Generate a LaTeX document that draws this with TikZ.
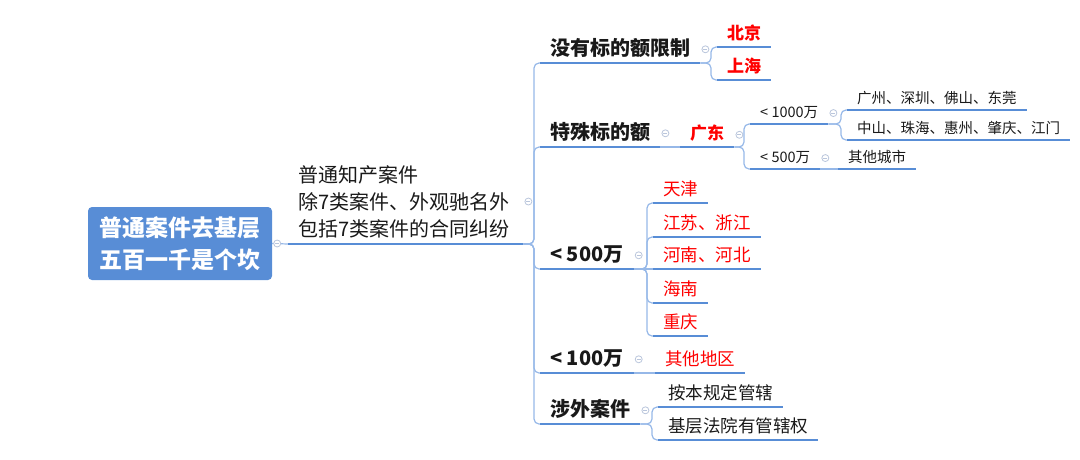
\documentclass[tikz,border=0pt]{standalone}
\usepackage{fontspec}
\setmainfont{Noto Sans CJK SC}
\definecolor{mapblue}{RGB}{88,141,214}
\definecolor{linkblue}{RGB}{150,184,232}
\definecolor{foldgray}{RGB}{186,198,220}
\definecolor{ink}{RGB}{25,25,25}
\definecolor{hot}{RGB}{255,0,0}

\begin{document}
\begin{tikzpicture}[x=1pt,y=-1pt,
 topic/.style={anchor=south west, inner xsep=10pt, inner ysep=3.5pt, text=ink},
 head/.style={topic, text height=16pt, text depth=4pt, font=\fontsize{20pt}{24pt}\selectfont\bfseries},
 city/.style={topic, text=hot, text height=13.6pt, text depth=3.4pt, font=\fontsize{17pt}{20pt}\selectfont\bfseries},
 place/.style={topic, text height=14pt, text depth=3.5pt, font=\fontsize{17.5pt}{21pt}\selectfont},
 redplace/.style={place, text=hot},
 small/.style={topic, text height=11.6pt, text depth=2.9pt, font=\fontsize{14.5pt}{17pt}\selectfont},
 uline/.style={mapblue, line width=2pt},
 link/.style={linkblue, line width=1.2pt, rounded corners=5pt},
 fold/.style={circle, draw=foldgray, fill=white, line width=0.8pt, inner sep=0pt, minimum size=7pt}]
\useasboundingbox (0,0) rectangle (1080,459);

\node[fill=mapblue, rounded corners=4pt, text=white, align=center, inner sep=0pt,
 minimum width=184pt, minimum height=73pt, font=\fontsize{23pt}{32pt}\selectfont\bfseries]
 (root) at (180,243.5) {普通案件去基层\\五百一千是个坎};
\node[topic, text width=215pt, align=left, inner ysep=6pt, font=\fontsize{20pt}{27pt}\selectfont]
 (ip) at (288,244) {普通知产案件\\除7类案件、外观驰名外\\包括7类案件的合同纠纷};

\node[head] (nolimit) at (540,63) {没有标的额限制};
\node[city] (bj) at (717,47) {北京};
\node[city] (sh) at (717,80) {上海};
\node[head] (special) at (540,147) {特殊标的额};
\node[city] (gd) at (680,147) {广东};
\node[small] (gdhigh) at (750,124) {< 1000万};
\node[small] (gz) at (847,110) {广州、深圳、佛山、东莞};
\node[small] (zs) at (847,140) {中山、珠海、惠州、肇庆、江门};
\node[small] (gdlow) at (750,169) {< 500万};
\node[small] (other) at (838,169) {其他城市};
\node[head] (five) at (540,269) {< 500万};
\node[redplace] (tj) at (653,203) {天津};
\node[redplace] (js) at (653,237) {江苏、浙江};
\node[redplace] (hn) at (653,269) {河南、河北};
\node[redplace] (hain) at (653,303) {海南};
\node[redplace] (cq) at (653,336) {重庆};
\node[head] (one) at (540,373) {< 100万};
\node[redplace] (rest) at (655,373) {其他地区};
\node[head] (foreign) at (540,424) {涉外案件};
\node[place] (rule) at (658,407) {按本规定管辖};
\node[place] (basic) at (658,440) {基层法院有管辖权};

\draw[link] (root.east) -- (ip.south west);
\foreach \a/\b in {special/gd, gdlow/other, five/hn, one/rest}
 \draw[link] (\a.south east) -- (\b.south west);
\foreach \a/\b in {ip/nolimit, ip/special, ip/five, ip/one, ip/foreign, nolimit/bj, nolimit/sh,
 gd/gdhigh, gd/gdlow, gdhigh/gz, gdhigh/zs, five/tj, five/js, five/hain, five/cq, foreign/rule, foreign/basic}
 \draw[link] (\a.south east) -| ([xshift=-6pt]\b.south west) -- (\b.south west);

\foreach \n in {ip, nolimit, bj, sh, special, gd, gdhigh, gz, zs, gdlow, other, five, tj, js, hn, hain, cq, one, rest, foreign, rule, basic}
 \draw[uline] (\n.south west) -- (\n.south east);

\foreach \n in {root, ip, nolimit, special, gd, gdhigh, gdlow, five, one, foreign} {
 \node[fold] (f\n) at ([xshift=5pt]\n.east) {};
 \draw[foldgray, line width=0.8pt] ([xshift=-2pt]f\n.center) -- ([xshift=2pt]f\n.center);
}
\end{tikzpicture}
\end{document}
